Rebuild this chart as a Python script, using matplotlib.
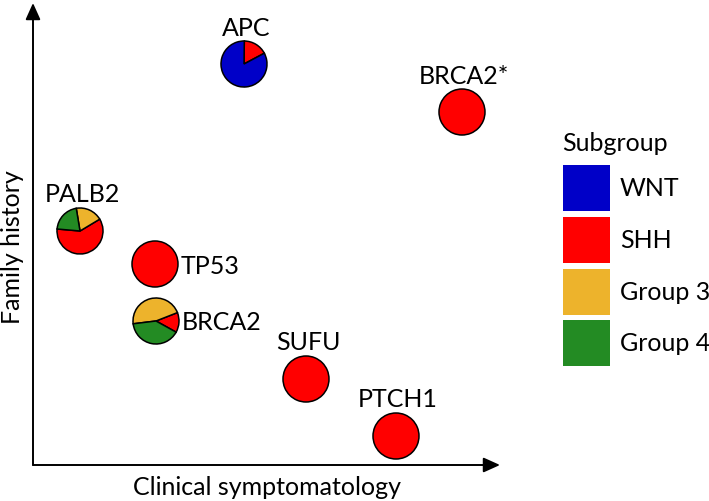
import matplotlib
matplotlib.use("Agg")
import matplotlib.pyplot as plt
from matplotlib.patches import Rectangle

plt.rcParams['font.family'] = ['Lato', 'DejaVu Sans']

genes = ["APC", "BRCA2*", "PALB2", "TP53", "BRCA2", "SUFU", "PTCH1"]
clinical = [211, 429, 47, 122, 123, 273, 363]
family = [401, 353, 234, 201, 144, 86, 29]
wnt = [83, 0, 0, 0, 0, 0, 0]
shh = [17, 100, 60, 100, 14, 100, 100]
group3 = [0, 0, 19, 0, 46, 0, 0]
group4 = [0, 0, 21, 0, 40, 0, 0]
label_side = ["top", "top", "top", "right", "right", "top", "top"]
start_angles = [28, 90, 175, 90, -29, 90, 90]

subgroups = ["WNT", "SHH", "Group 3", "Group 4"]
colors = {"WNT": "#0000C8", "SHH": "#FF0000", "Group 3": "#EDB32C", "Group 4": "#238B23"}

W, H = 709, 502
fig = plt.figure(figsize=(W / 100, H / 100), dpi=100)
ox, oy = 33, 466
ax = fig.add_axes([ox / W, (H - oy) / H, (W - ox) / W, oy / H])

R = 23
FS = 18
for i, g in enumerate(genes):
    vals = [shh[i], group3[i], group4[i], wnt[i]]
    cols = [colors["SHH"], colors["Group 3"], colors["Group 4"], colors["WNT"]]
    v = [a for a in vals if a > 0]
    c = [cc for a, cc in zip(vals, cols) if a > 0]
    ax.pie(v, colors=c, center=(clinical[i], family[i]), radius=R,
           startangle=start_angles[i], counterclock=True,
           wedgeprops=dict(edgecolor="black", linewidth=1.1))
    if label_side[i] == "top":
        ax.text(clinical[i] + 2, family[i] + 37, g, ha="center", va="center", fontsize=FS)
    else:
        ax.text(clinical[i] + 26, family[i] - 1, g, ha="left", va="center", fontsize=FS)

ax.set_xlim(0, W - ox)
ax.set_ylim(0, oy)
ax.set_aspect("equal")
ax.axis("off")

# axes arrows
ax.annotate("", xy=(467, 0), xytext=(0, 0),
            arrowprops=dict(arrowstyle="-|>,head_length=1.0,head_width=0.45", color="black", lw=1.4,
                            shrinkA=0, shrinkB=0), annotation_clip=False)
ax.annotate("", xy=(0, 462), xytext=(0, 0),
            arrowprops=dict(arrowstyle="-|>,head_length=1.0,head_width=0.45", color="black", lw=1.4,
                            shrinkA=0, shrinkB=0), annotation_clip=False)

fig.text(267 / W, 1 - 488 / H, "Clinical symptomatology", ha="center", va="center", fontsize=FS)
fig.text(13 / W, 1 - 247 / H, "Family history", ha="center", va="center", rotation=90, fontsize=FS)

# legend
fig.text(615 / W, 1 - 144 / H, "Subgroup", ha="center", va="center", fontsize=FS)
tops = [166, 218, 270, 321]
for sg, t in zip(subgroups, tops):
    fig.patches.append(Rectangle((563 / W, 1 - (t + 46) / H), 47 / W, 46 / H,
                                 transform=fig.transFigure, facecolor=colors[sg], edgecolor="none"))
    fig.text(620 / W, 1 - (t + 23) / H, sg, ha="left", va="center", fontsize=FS)

fig.savefig("out.png", dpi=100)
